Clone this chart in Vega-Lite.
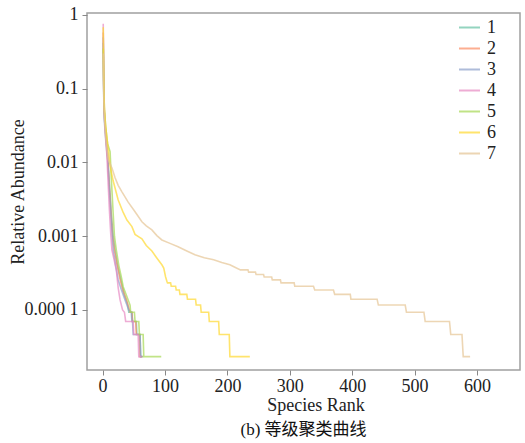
{
  "$schema": "https://vega.github.io/schema/vega-lite/v6.json",
  "width": 433,
  "height": 357,
  "autosize": "none",
  "padding": {"left": 87, "top": 13, "right": 5, "bottom": 73},
  "background": "white",
  "title": {
    "text": "(b) 等级聚类曲线",
    "orient": "bottom",
    "anchor": "middle",
    "frame": "group",
    "offset": 8,
    "font": "Liberation Serif, Noto Sans CJK SC",
    "fontSize": 17,
    "fontWeight": "normal",
    "color": "#111"
  },
  "config": {
    "view": {"stroke": "#a0a0a0", "strokeWidth": 1.5},
    "font": "Liberation Serif",
    "axis": {
      "grid": false,
      "domain": false,
      "tickColor": "#888",
      "tickSize": 5,
      "labelFont": "Liberation Serif",
      "labelFontSize": 18,
      "labelColor": "#222",
      "titleFont": "Liberation Serif",
      "titleFontSize": 18,
      "titleFontWeight": "normal",
      "titleColor": "#222"
    },
    "legend": {
      "orient": "none",
      "legendX": 371,
      "legendY": 3,
      "padding": 0,
      "symbolType": "stroke",
      "symbolSize": 441,
      "symbolStrokeWidth": 2,
      "symbolOpacity": 0.7,
      "labelFont": "Liberation Serif",
      "labelFontSize": 18,
      "labelColor": "#222",
      "labelOffset": 6,
      "rowPadding": -2,
      "title": null
    }
  },
  "data": {
    "values": [
      {"g":"1","r":1,"v":0.42},{"g":"1","r":2,"v":0.07},{"g":"1","r":3,"v":0.04},{"g":"1","r":5,"v":0.024},{"g":"1","r":8,"v":0.013},{"g":"1","r":11,"v":0.005},{"g":"1","r":14,"v":0.002},{"g":"1","r":17,"v":0.001},{"g":"1","r":20,"v":0.00065},{"g":"1","r":24,"v":0.0004},{"g":"1","r":30,"v":0.00024},{"g":"1","r":35,"v":0.00016},{"g":"1","r":40,"v":0.00012},{"g":"1","r":42,"v":0.0000932},{"g":"1","r":47,"v":0.0000932},{"g":"1","r":48,"v":0.0000699},{"g":"1","r":54,"v":0.0000699},{"g":"1","r":55,"v":0.0000466},{"g":"1","r":60,"v":0.0000466},{"g":"1","r":61,"v":0.0000233},{"g":"1","r":65,"v":0.0000233},

      {"g":"2","r":1,"v":0.58},{"g":"2","r":2,"v":0.08},{"g":"2","r":3,"v":0.045},{"g":"2","r":5,"v":0.025},{"g":"2","r":8,"v":0.012},{"g":"2","r":11,"v":0.0045},{"g":"2","r":14,"v":0.0018},{"g":"2","r":16,"v":0.001},{"g":"2","r":19,"v":0.00065},{"g":"2","r":23,"v":0.00042},{"g":"2","r":28,"v":0.00026},{"g":"2","r":33,"v":0.00018},{"g":"2","r":38,"v":0.00014},{"g":"2","r":44,"v":0.0000932},{"g":"2","r":47,"v":0.0000932},{"g":"2","r":48,"v":0.0000699},{"g":"2","r":53,"v":0.0000699},{"g":"2","r":54,"v":0.0000466},{"g":"2","r":59,"v":0.0000466},{"g":"2","r":60,"v":0.0000233},{"g":"2","r":64,"v":0.0000233},

      {"g":"3","r":1,"v":0.5},{"g":"3","r":2,"v":0.06},{"g":"3","r":3,"v":0.035},{"g":"3","r":5,"v":0.02},{"g":"3","r":8,"v":0.011},{"g":"3","r":11,"v":0.004},{"g":"3","r":14,"v":0.0015},{"g":"3","r":17,"v":0.00065},{"g":"3","r":21,"v":0.0004},{"g":"3","r":25,"v":0.000255},{"g":"3","r":30,"v":0.00019},{"g":"3","r":36,"v":0.000137},{"g":"3","r":42,"v":0.0001},{"g":"3","r":46,"v":0.0000932},{"g":"3","r":47,"v":0.0000699},{"g":"3","r":48,"v":0.0000699},{"g":"3","r":49,"v":0.0000466},{"g":"3","r":60,"v":0.0000466},{"g":"3","r":61,"v":0.0000233},{"g":"3","r":63,"v":0.0000233},

      {"g":"4","r":1,"v":0.76},{"g":"4","r":2,"v":0.07},{"g":"4","r":3,"v":0.04},{"g":"4","r":5,"v":0.022},{"g":"4","r":7,"v":0.012},{"g":"4","r":9,"v":0.005},{"g":"4","r":11,"v":0.0022},{"g":"4","r":13,"v":0.0011},{"g":"4","r":15,"v":0.00065},{"g":"4","r":18,"v":0.0005},{"g":"4","r":22,"v":0.000348},{"g":"4","r":25,"v":0.0002},{"g":"4","r":28,"v":0.000137},{"g":"4","r":32,"v":0.0001},{"g":"4","r":35,"v":0.0000932},{"g":"4","r":37,"v":0.0000699},{"g":"4","r":49,"v":0.0000699},{"g":"4","r":50,"v":0.0000466},{"g":"4","r":57,"v":0.0000466},{"g":"4","r":58,"v":0.0000233},{"g":"4","r":62,"v":0.0000233},

      {"g":"5","r":1,"v":0.35},{"g":"5","r":2,"v":0.09},{"g":"5","r":3,"v":0.05},{"g":"5","r":5,"v":0.03},{"g":"5","r":8,"v":0.018},{"g":"5","r":12,"v":0.014},{"g":"5","r":14,"v":0.006},{"g":"5","r":17,"v":0.002},{"g":"5","r":19,"v":0.001},{"g":"5","r":22,"v":0.00065},{"g":"5","r":26,"v":0.0004},{"g":"5","r":30,"v":0.00028},{"g":"5","r":33,"v":0.000207},{"g":"5","r":38,"v":0.00016},{"g":"5","r":44,"v":0.0001166},{"g":"5","r":45,"v":0.0000932},{"g":"5","r":51,"v":0.0000932},{"g":"5","r":52,"v":0.0000699},{"g":"5","r":58,"v":0.0000699},{"g":"5","r":59,"v":0.0000466},{"g":"5","r":65,"v":0.0000466},{"g":"5","r":66,"v":0.0000233},{"g":"5","r":94,"v":0.0000233},

      {"g":"6","r":1,"v":0.68},{"g":"6","r":2,"v":0.1},{"g":"6","r":3,"v":0.05},{"g":"6","r":5,"v":0.03},{"g":"6","r":8,"v":0.018},{"g":"6","r":12,"v":0.009},{"g":"6","r":17,"v":0.0056},{"g":"6","r":25,"v":0.0031},{"g":"6","r":33,"v":0.0021},{"g":"6","r":39,"v":0.00166},{"g":"6","r":47,"v":0.00135},{"g":"6","r":52,"v":0.00106},{"g":"6","r":58,"v":0.00098},{"g":"6","r":63,"v":0.00092},{"g":"6","r":70,"v":0.00075},{"g":"6","r":79,"v":0.00063},{"g":"6","r":86,"v":0.00052},{"g":"6","r":95,"v":0.00041},{"g":"6","r":98,"v":0.00037},{"g":"6","r":101,"v":0.00028},{"g":"6","r":103,"v":0.000245},{"g":"6","r":104,"v":0.000233},{"g":"6","r":109,"v":0.000233},{"g":"6","r":110,"v":0.00021},{"g":"6","r":117,"v":0.00021},{"g":"6","r":118,"v":0.0001865},{"g":"6","r":123,"v":0.0001865},{"g":"6","r":124,"v":0.000163},{"g":"6","r":135,"v":0.000163},{"g":"6","r":136,"v":0.00014},{"g":"6","r":149,"v":0.00014},{"g":"6","r":150,"v":0.0001166},{"g":"6","r":157,"v":0.0001166},{"g":"6","r":158,"v":0.0000932},{"g":"6","r":170,"v":0.0000932},{"g":"6","r":171,"v":0.0000699},{"g":"6","r":186,"v":0.0000699},{"g":"6","r":187,"v":0.0000466},{"g":"6","r":203,"v":0.0000466},{"g":"6","r":204,"v":0.0000233},{"g":"6","r":236,"v":0.0000233},

      {"g":"7","r":1,"v":0.3},{"g":"7","r":2,"v":0.07},{"g":"7","r":3,"v":0.04},{"g":"7","r":5,"v":0.022},{"g":"7","r":7,"v":0.015},{"g":"7","r":9,"v":0.011},{"g":"7","r":15,"v":0.0084},{"g":"7","r":20,"v":0.0062},{"g":"7","r":25,"v":0.0049},{"g":"7","r":31,"v":0.004},{"g":"7","r":41,"v":0.0029},{"g":"7","r":52,"v":0.00215},{"g":"7","r":63,"v":0.00157},{"g":"7","r":70,"v":0.00138},{"g":"7","r":79,"v":0.00122},{"g":"7","r":87,"v":0.00102},{"g":"7","r":95,"v":0.00089},{"g":"7","r":108,"v":0.0008},{"g":"7","r":121,"v":0.00072},{"g":"7","r":135,"v":0.00063},{"g":"7","r":148,"v":0.00056},{"g":"7","r":163,"v":0.00051},{"g":"7","r":178,"v":0.00048},{"g":"7","r":191,"v":0.00044},{"g":"7","r":204,"v":0.00041},{"g":"7","r":212,"v":0.00038},{"g":"7","r":221,"v":0.00035},{"g":"7","r":233,"v":0.00035},{"g":"7","r":234,"v":0.000326},{"g":"7","r":245,"v":0.000326},{"g":"7","r":246,"v":0.000303},{"g":"7","r":258,"v":0.000303},{"g":"7","r":259,"v":0.00028},{"g":"7","r":271,"v":0.00028},{"g":"7","r":272,"v":0.000256},{"g":"7","r":285,"v":0.000256},{"g":"7","r":286,"v":0.000233},{"g":"7","r":307,"v":0.000233},{"g":"7","r":308,"v":0.00021},{"g":"7","r":338,"v":0.00021},{"g":"7","r":340,"v":0.0001865},{"g":"7","r":370,"v":0.0001865},{"g":"7","r":372,"v":0.000163},{"g":"7","r":397,"v":0.000163},{"g":"7","r":398,"v":0.00014},{"g":"7","r":440,"v":0.00014},{"g":"7","r":442,"v":0.0001166},{"g":"7","r":485,"v":0.0001166},{"g":"7","r":487,"v":0.0000932},{"g":"7","r":515,"v":0.0000932},{"g":"7","r":517,"v":0.0000699},{"g":"7","r":556,"v":0.0000699},{"g":"7","r":558,"v":0.0000466},{"g":"7","r":576,"v":0.0000466},{"g":"7","r":578,"v":0.0000233},{"g":"7","r":589,"v":0.0000233}
    ]
  },
  "mark": {"type": "line", "strokeWidth": 1.6, "strokeOpacity": 0.7, "clip": true},
  "encoding": {
    "x": {
      "field": "r",
      "type": "quantitative",
      "scale": {"domain": [-25, 669], "nice": false, "zero": false},
      "axis": {
        "values": [0, 100, 200, 300, 400, 500, 600],
        "labelPadding": 2,
        "title": "Species Rank",
        "titleX": 228.5,
        "titleY": 40,
        "titleBaseline": "alphabetic",
        "titleAlign": "center"
      }
    },
    "y": {
      "field": "v",
      "type": "quantitative",
      "scale": {"type": "log", "domain": [0.00001535, 1.064], "nice": false},
      "axis": {
        "values": [1, 0.1, 0.01, 0.001, 0.0001],
        "labelExpr": "datum.value > 0.5 ? '1' : datum.value > 0.05 ? '0.1' : datum.value > 0.005 ? '0.01' : datum.value > 0.0005 ? '0.001' : '0.000 1'",
        "labelPadding": 4,
        "title": "Relative Abundance",
        "titleX": -69,
        "titleY": 178.5,
        "titleAngle": 270,
        "titleAlign": "center",
        "titleBaseline": "middle"
      }
    },
    "color": {
      "field": "g",
      "type": "nominal",
      "scale": {
        "domain": ["1", "2", "3", "4", "5", "6", "7"],
        "range": ["#66c2a5", "#fc8d62", "#8da0cb", "#e78ac3", "#a6d854", "#ffd92f", "#e5c494"]
      }
    }
  }
}
